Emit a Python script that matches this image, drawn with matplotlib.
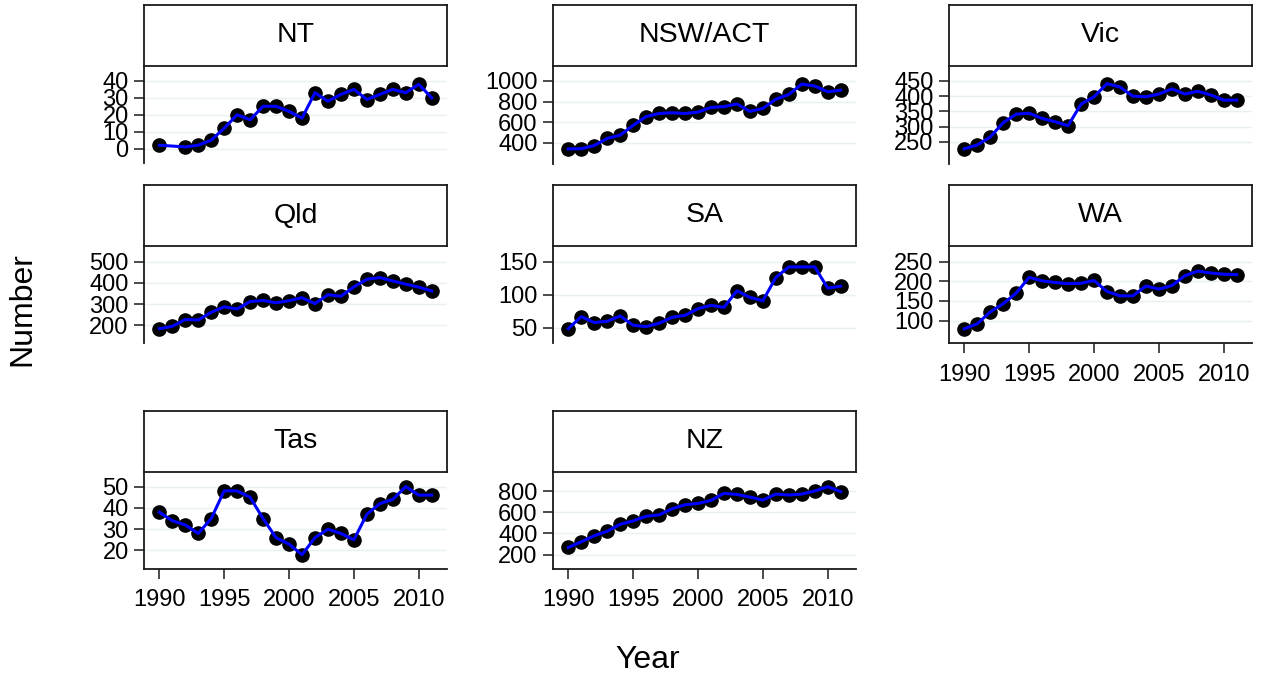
import numpy as np
import matplotlib
matplotlib.use("Agg")
import matplotlib.pyplot as plt

plt.rcParams['font.family'] = ['Liberation Sans', 'DejaVu Sans']

# data (1990-2011)
years = list(range(1990, 2012))
regions = ["NT", "NSW/ACT", "Vic", "Qld", "SA", "WA", "Tas", "NZ"]

nt = [2, None, 1, 2, 5, 12, 20, 17, 25, 25, 22, 18, 33, 28, 32, 35, 29, 32, 35, 33, 38, 30]
nsw = [341, 344, 374, 443, 475, 570, 655, 685, 692, 685, 698, 744, 751, 777, 705, 734,
       823, 869, 970, 951, 895, 911]
vic = [227, 240, 266, 313, 341, 344, 327, 316, 303, 374, 398, 441, 430, 400, 398, 407,
       424, 407, 416, 404, 387, 387]
qld = [184, 195, 227, 225, 261, 287, 277, 312, 317, 306, 316, 330, 302, 344, 337, 381,
       417, 425, 409, 394, 380, 362]
sa = [49, 67, 58, 60, 68, 54, 52, 57, 66, 69, 79, 84, 81, 106, 96, 91, 126, 142, 142,
      142, 110, 113]
wa = [79, 92, 122, 143, 170, 210, 201, 197, 194, 195, 202, 174, 163, 163, 188, 180,
      189, 214, 226, 221, 218, 217]
tas = [38, 34, 32, 28, 35, 48, 48, 45, 35, 26, 23, 18, 26, 30, 28, 25, 37, 42, 44, 50, 46, 46]
nz = [267, 321, 378, 420, 486, 518, 562, 575, 632, 670, 683, 711, 778, 768, 743, 714,
      771, 762, 771, 800, 841, 794]
series = [nt, nsw, vic, qld, sa, wa, tas, nz]

yticks = [[0, 10, 20, 30, 40], [400, 600, 800, 1000], [250, 300, 350, 400, 450],
          [200, 300, 400, 500], [50, 100, 150], [100, 150, 200, 250],
          [20, 30, 40, 50], [200, 400, 600, 800]]
ylims = [(-8.8, 48.8), (200, 1145), (179, 499), (114, 574), (26.5, 173.5),
         (41.8, 289.7), (11.3, 57.1), (64, 984)]

W, H = 1261, 678
fig = plt.figure(figsize=(W / 100, H / 100), dpi=100)

col_left = [144, 553, 949]
panel_w = 303
plot_top = [66, 246, 471.5]
plot_h = 97.5
strip_h = 61
has_xaxis = [False, False, False, False, False, True, True, True]
axis_col = '#1a1a1a'

for i, name in enumerate(regions):
    r, c = divmod(i, 3)
    left = col_left[c]
    top = plot_top[r]
    ax = fig.add_axes([left / W, 1 - (top + plot_h) / H, panel_w / W, plot_h / H])
    st = fig.add_axes([left / W, 1 - top / H, panel_w / W, strip_h / H])

    # strip header
    st.set_xticks([])
    st.set_yticks([])
    for s in st.spines.values():
        s.set_linewidth(1.3)
        s.set_color(axis_col)
    st.text(0.5, 0.5, name, ha='center', va='center', fontsize=20.5, transform=st.transAxes)

    xs = [y for y, v in zip(years, series[i]) if v is not None]
    vs = [v for v in series[i] if v is not None]
    ax.plot(xs, vs, 'o', color='black', markersize=9.5, zorder=3)
    ax.plot(xs, vs, '-', color='#0000ff', linewidth=2.2, zorder=4)

    ax.set_xlim(1988.82, 2012.18)
    ax.set_ylim(*ylims[i])
    ax.set_yticks(yticks[i])
    for t in yticks[i]:
        ax.axhline(t, color='#e8f1ef', linewidth=1, zorder=1)

    for s in ['top', 'right']:
        ax.spines[s].set_visible(False)
    ax.spines['left'].set_color(axis_col)
    ax.spines['left'].set_linewidth(1.3)
    ax.tick_params(axis='y', length=7.5, width=1.1, color=axis_col, pad=3.5, labelsize=17)
    if has_xaxis[i]:
        ax.spines['bottom'].set_color(axis_col)
        ax.spines['bottom'].set_linewidth(1.3)
        ax.set_xticks([1990, 1995, 2000, 2005, 2010])
        ax.tick_params(axis='x', length=7.5, width=1.1, color=axis_col, pad=7, labelsize=17)
    else:
        ax.spines['bottom'].set_visible(False)
        ax.set_xticks([])

fig.text(22 / W, 1 - 309 / H, "Number", rotation=90, ha='center', va='center', fontsize=23)
fig.text(648 / W, 1 - 660 / H, "Year", ha='center', va='center', fontsize=23)

fig.savefig("out.png", dpi=100)
